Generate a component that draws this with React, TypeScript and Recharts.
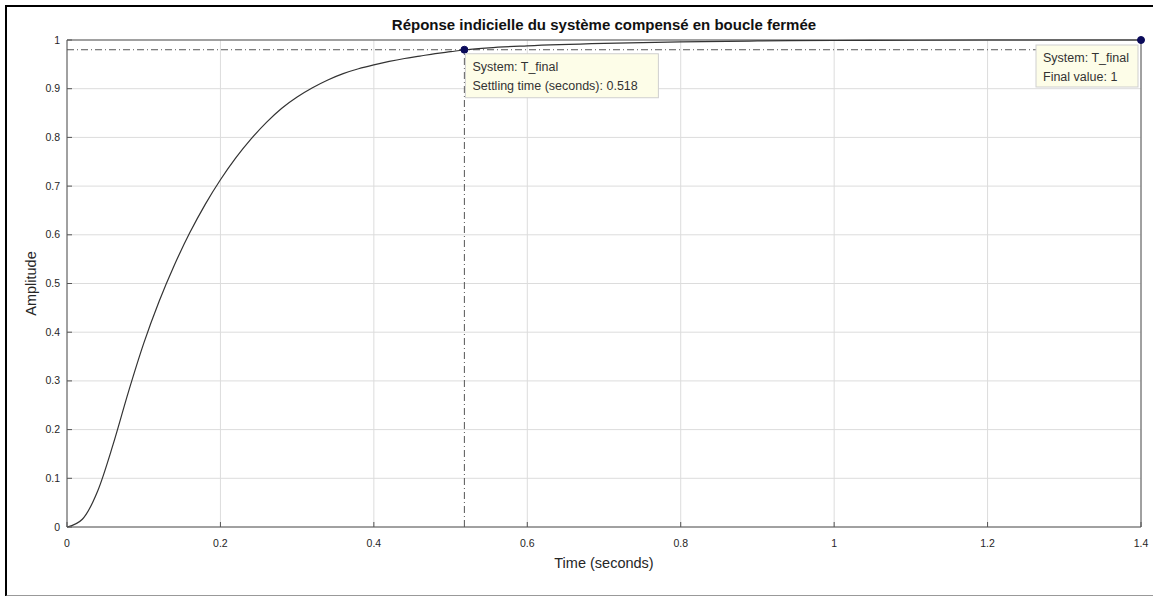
import React from 'react';
import {
  LineChart,
  Line,
  XAxis,
  YAxis,
  CartesianGrid,
  ReferenceLine,
  ReferenceDot,
} from 'recharts';

// step response
const times = [
  0, 0.02, 0.04, 0.06, 0.08, 0.1, 0.12, 0.14, 0.16, 0.18, 0.2, 0.22, 0.24,
  0.26, 0.28, 0.3, 0.32, 0.34, 0.36, 0.38, 0.4, 0.42, 0.44, 0.46, 0.48, 0.5,
  0.52, 0.55, 0.6, 0.7, 0.8, 0.9, 1.0, 1.1, 1.2, 1.3, 1.4,
];
const amplitude = [
  0, 0.016, 0.074, 0.169, 0.277, 0.377, 0.463, 0.538, 0.604, 0.662, 0.713,
  0.758, 0.797, 0.831, 0.86, 0.883, 0.902, 0.918, 0.931, 0.941, 0.949, 0.956,
  0.962, 0.967, 0.972, 0.976, 0.98, 0.984, 0.988, 0.993, 0.996, 0.998, 0.999,
  0.9995, 1, 1, 1,
];

const xTicks = [0, 0.2, 0.4, 0.6, 0.8, 1, 1.2, 1.4];
const yTicks = [0, 0.1, 0.2, 0.3, 0.4, 0.5, 0.6, 0.7, 0.8, 0.9, 1];

const settlingTime = 0.518;
const settlingLevel = 0.98;
const finalTime = 1.4;
const finalValue = 1;

const title = 'Réponse indicielle du système compensé en boucle fermée';
const settlingTip = ['System: T_final', 'Settling time (seconds): 0.518'];
const finalTip = ['System: T_final', 'Final value: 1'];

const data = times.map((t, i) => ({ t, y: amplitude[i] }));

const FONT = '"Liberation Sans", Arial, sans-serif';
const AXIS = '#555';
const TEXT = '#262626';

const YTick = (props: any) => {
  const { x, y, payload } = props;
  return (
    <g>
      <line x1={x + 7} x2={x + 12} y1={y} y2={y} stroke={AXIS} />
      <text x={x} y={y} dy={3.5} textAnchor="end" fontSize={10.5} fill={TEXT} fontFamily={FONT}>
        {payload.value}
      </text>
    </g>
  );
};

const XTick = (props: any) => {
  const { x, y, payload } = props;
  return (
    <g>
      <line x1={x} x2={x} y1={y - 8} y2={y - 13} stroke={AXIS} />
      <text x={x} y={y} dy={12} textAnchor="middle" fontSize={10.5} fill={TEXT} fontFamily={FONT}>
        {payload.value}
      </text>
    </g>
  );
};

const tipLabel = (lines: string[], dx: number, dy: number, w: number, h: number) =>
  (props: any) => {
    const vb = props.viewBox;
    const cx = vb.x + vb.width / 2;
    const cy = vb.y + vb.height / 2;
    const x = cx + dx;
    const y = cy + dy;
    return (
      <g>
        <rect x={x} y={y} width={w} height={h} fill="#fdfde8" stroke="#cfcfcf" />
        {lines.map((l, i) => (
          <text key={i} x={x + 7} y={y + 17 + i * 19} fontSize={12.5} fill="#333" fontFamily={FONT}>
            {l}
          </text>
        ))}
      </g>
    );
  };

export default function App() {
  return (
    <div style={{ position: 'absolute', left: 0, top: 0, width: 1153, height: 596, background: '#fff' }}>
      <div
        style={{
          position: 'absolute',
          left: 5,
          top: 5,
          width: 1150,
          height: 588,
          borderTop: '2px solid #000',
          borderLeft: '2px solid #000',
          borderBottom: '2px solid #999',
        }}
      />
      <div
        style={{
          position: 'absolute',
          left: 67,
          width: 1074,
          top: 16,
          textAlign: 'center',
          fontFamily: FONT,
          fontWeight: 'bold',
          fontSize: 15,
          color: '#111',
        }}
      >
        {title}
      </div>
      <div style={{ position: 'absolute', left: 0, top: 0 }}>
        <LineChart width={1153} height={596} data={data} margin={{ top: 40, right: 12, left: 27, bottom: 39 }}>
          <CartesianGrid stroke="#dcdcdc" horizontalValues={yTicks} verticalValues={xTicks} />
          <XAxis
            dataKey="t"
            type="number"
            domain={[0, 1.4]}
            ticks={xTicks}
            tick={<XTick />}
            tickLine={false}
            tickSize={0}
            tickMargin={8}
            height={30}
            axisLine={{ stroke: AXIS }}
            label={{
              content: (p: any) => (
                <text
                  x={p.viewBox.x + p.viewBox.width / 2}
                  y={p.viewBox.y + 41}
                  textAnchor="middle"
                  fontSize={14.5}
                  fill={TEXT}
                  fontFamily={FONT}
                >
                  Time (seconds)
                </text>
              ),
            }}
          />
          <YAxis
            type="number"
            domain={[0, 1]}
            ticks={yTicks}
            tick={<YTick />}
            tickLine={false}
            tickSize={0}
            tickMargin={7}
            width={40}
            axisLine={{ stroke: AXIS }}
            label={{
              content: (p: any) => {
                const cx = p.viewBox.x + 9;
                const cy = p.viewBox.y + p.viewBox.height / 2;
                return (
                  <text
                    x={cx}
                    y={cy}
                    transform={`rotate(-90 ${cx} ${cy})`}
                    textAnchor="middle"
                    fontSize={14.5}
                    fill={TEXT}
                    fontFamily={FONT}
                  >
                    Amplitude
                  </text>
                );
              },
            }}
          />
          <ReferenceLine y={finalValue} stroke={AXIS} />
          <ReferenceLine x={finalTime} stroke={AXIS} />
          <ReferenceLine y={settlingLevel} stroke="#555" strokeDasharray="7 3 1 3" />
          <ReferenceLine
            segment={[
              { x: settlingTime, y: 0 },
              { x: settlingTime, y: settlingLevel },
            ]}
            stroke="#555"
            strokeDasharray="7 3 1 3"
          />
          <Line
            type="monotone"
            dataKey="y"
            stroke="#333"
            strokeWidth={1.2}
            dot={false}
            isAnimationActive={false}
          />
          <ReferenceDot
            x={settlingTime}
            y={settlingLevel}
            r={3.5}
            fill="#0a0a5a"
            stroke="#0a0a5a"
            label={tipLabel(settlingTip, 1, 4, 193, 44)}
          />
          <ReferenceDot
            x={finalTime}
            y={finalValue}
            r={3.5}
            fill="#0a0a5a"
            stroke="#0a0a5a"
            ifOverflow="visible"
            label={tipLabel(finalTip, -105, 5, 102, 42)}
          />
        </LineChart>
      </div>
    </div>
  );
}
